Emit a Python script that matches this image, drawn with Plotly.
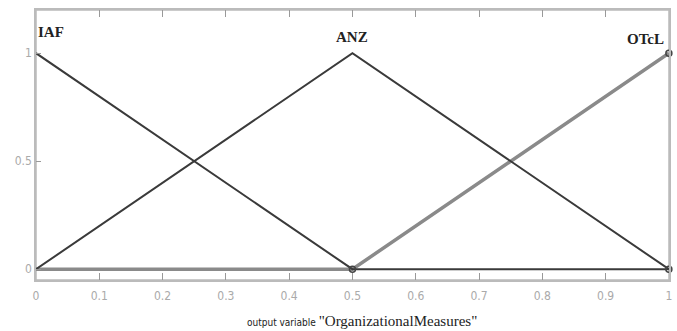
import plotly.graph_objects as go

x_pts = [0, 0.5, 1]
iaf = [1, 0, 0]
anz = [0, 1, 0]
otcl = [0, 0, 1]
names = ["IAF", "ANZ", "OTcL"]
x_ticks = [0, 0.1, 0.2, 0.3, 0.4, 0.5, 0.6, 0.7, 0.8, 0.9, 1]
x_tick_text = ["0", "0.1", "0.2", "0.3", "0.4", "0.5", "0.6", "0.7", "0.8", "0.9", "1"]
y_ticks = [0, 0.5, 1]
y_tick_text = ["0", "0.5", "1"]

fig = go.Figure()
fig.add_trace(go.Scatter(x=x_pts, y=otcl, mode="lines", line=dict(color="#8a8a8a", width=3.5), showlegend=False))
fig.add_trace(go.Scatter(x=x_pts, y=iaf, mode="lines", line=dict(color="#3a3a3a", width=2), showlegend=False))
fig.add_trace(go.Scatter(x=x_pts, y=anz, mode="lines", line=dict(color="#3a3a3a", width=2), showlegend=False))
fig.add_trace(go.Scatter(x=[0.5, 1, 1], y=[0, 1, 0], mode="markers",
                         marker=dict(symbol="circle-open", size=6, color="#444", line=dict(width=1.5)),
                         showlegend=False, cliponaxis=False))

serif = "Liberation Serif, Times New Roman, serif"
fig.add_annotation(x=0, y=1.1, xref="x", yref="y", text="<b>IAF</b>", showarrow=False,
                   xanchor="left", font=dict(family=serif, size=15, color="#222"))
fig.add_annotation(x=0.5, y=1.075, xref="x", yref="y", text="<b>ANZ</b>", showarrow=False,
                   xanchor="center", font=dict(family=serif, size=15, color="#222"))
fig.add_annotation(x=0.995, y=1.065, xref="x", yref="y", text="<b>OTcL</b>", showarrow=False,
                   xanchor="right", font=dict(family=serif, size=15, color="#222"))
fig.add_annotation(x=0.515, y=-0.15, xref="x", yref="paper", showarrow=False, xanchor="center", yanchor="middle",
                   text='<span style="font-family:Liberation Sans Narrow, DejaVu Sans Condensed, sans-serif;font-size:10px">output variable </span>'
                        '<span style="font-family:Liberation Serif, serif;font-size:15px">"OrganizationalMeasures"</span>',
                   font=dict(color="#222", size=13))

fig.add_shape(type="rect", xref="paper", yref="paper", x0=0, y0=0, x1=1, y1=1,
              line=dict(color="#bbbbbb", width=1.5), layer="below")

axis_font = dict(family="Liberation Sans Narrow, DejaVu Sans Condensed, sans-serif", size=12, color="#aaaaaa")
fig.update_xaxes(range=[0, 1.0002], tickvals=x_ticks, ticktext=x_tick_text, ticks="inside", ticklen=7,
                 tickcolor="#999", tickwidth=1.3, showgrid=False, zeroline=False, showline=True, linecolor="#bbb",
                 linewidth=1.5, mirror="allticks", tickfont=axis_font, automargin=False, ticklabelstandoff=4)
fig.update_yaxes(range=[-0.05, 1.2], tickvals=y_ticks, ticktext=y_tick_text, ticks="inside", ticklen=5,
                 tickcolor="#999", tickwidth=1.3, showgrid=False, zeroline=False, showline=True, linecolor="#bbb",
                 linewidth=1.5, mirror=True, tickfont=axis_font, automargin=False)
fig.update_layout(width=677, height=331, margin=dict(l=36, r=8, t=10, b=51),
                  plot_bgcolor="white", paper_bgcolor="white")
fig.write_html("out.html", config={"displayModeBar": False},
               post_script="document.body.style.margin='0';document.body.style.overflow='hidden';")
